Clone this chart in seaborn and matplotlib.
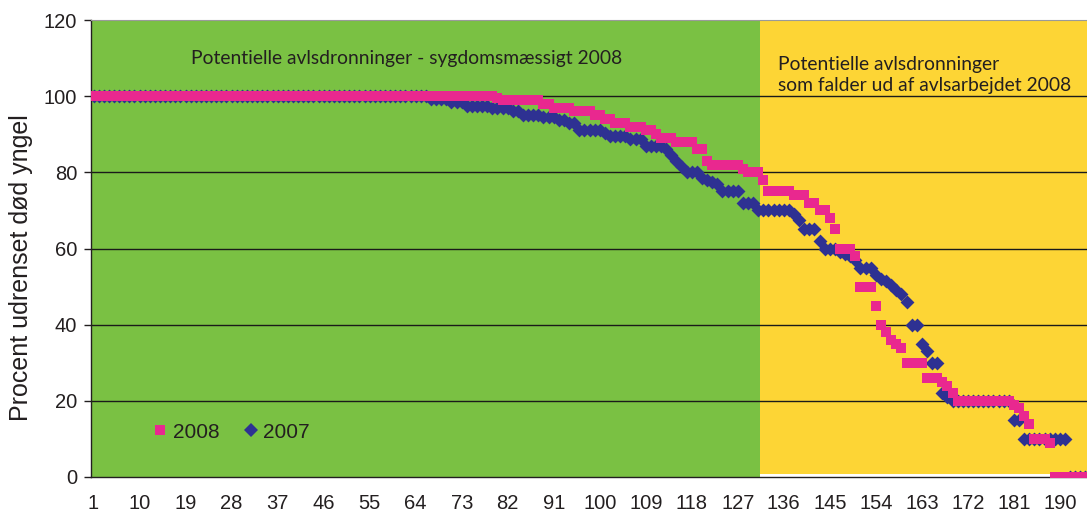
import numpy as np
import pandas as pd
import matplotlib
matplotlib.use("Agg")
import matplotlib.pyplot as plt
import seaborn as sns
from matplotlib.lines import Line2D
from matplotlib.ticker import FixedLocator

# ---------------- data ----------------
series_2008 = [
    100, 100, 100, 100, 100, 100, 100, 100, 100, 100, 100, 100, 100, 100, 100, 100, 100, 100, 100, 100,
    100, 100, 100, 100, 100, 100, 100, 100, 100, 100, 100, 100, 100, 100, 100, 100, 100, 100, 100, 100,
    100, 100, 100, 100, 100, 100, 100, 100, 100, 100, 100, 100, 100, 100, 100, 100, 100, 100, 100, 100,
    100, 100, 100, 100, 100, 100, 100, 100, 100, 100, 100, 100, 100, 100, 100, 100, 100, 100, 100, 99.5,
    99, 99, 99, 99, 99, 99, 99, 99, 98, 98, 97, 97, 97, 97, 96, 96, 96, 96, 95, 95,
    94, 94, 93, 93, 93, 92, 92, 92, 91, 91, 90, 89, 89, 89, 88, 88, 88, 88, 86, 86,
    83, 82, 82, 82, 82, 82, 82, 81, 80, 80, 80, 78, 75, 75, 75, 75, 75, 74, 74, 74,
    72, 72, 70, 70, 68, 65, 60, 60, 60, 58, 50, 50, 50, 45, 40, 38, 36, 35, 34, 30,
    30, 30, 30, 26, 26, 26, 25, 24, 22, 20, 20, 20, 20, 20, 20, 20, 20, 20, 20, 20,
    19, 18, 16, 14, 10, 10, 10, 9, 0, 0, 0, 0, 0, 0, 0, 0,
]
series_2007 = [
    100, 100, 100, 100, 100, 100, 100, 100, 100, 100, 100, 100, 100, 100, 100, 100, 100, 100, 100, 100,
    100, 100, 100, 100, 100, 100, 100, 100, 100, 100, 100, 100, 100, 100, 100, 100, 100, 100, 100, 100,
    100, 100, 100, 100, 100, 100, 100, 100, 100, 100, 100, 100, 100, 100, 100, 100, 100, 100, 100, 100,
    100, 100, 100, 100, 100, 100, 99.3, 99.3, 99.3, 99.3, 98.5, 98.5, 98.5, 97.5, 97.5, 97.5, 97.5, 97.5, 96.8, 96.8,
    96.8, 96.8, 96, 96, 95, 95, 95, 95, 94.5, 94.5, 94.5, 93.7, 93.7, 93, 93, 91.2, 91.2, 91.2, 91.2, 91.2,
    90.2, 89.6, 89.6, 89.6, 89.6, 88.8, 88.8, 88.8, 87, 87, 87, 87, 86, 84.5, 83, 81.5, 80, 80, 80, 78.5,
    78, 77.5, 77, 75, 75, 75, 75, 72, 72, 72, 70, 70, 70, 70, 70, 70, 70, 69, 67.5, 65,
    65, 65, 62, 60, 60, 60, 59, 58.5, 58, 57, 55, 55, 55, 53, 52, 51.5, 50.5, 49, 48, 46,
    40, 40, 35, 33, 30, 30, 22, 21, 20, 20, 20, 20, 20, 20, 20, 20, 20, 20, 20, 20,
    15, 15, 10, 10, 10, 10, 10, 10, 10, 10, 10, 0, 0, 0, 0, 0,
]
categories = list(range(1, len(series_2008) + 1))
tick_labels = [1, 10, 19, 28, 37, 46, 55, 64, 73, 82, 91, 100, 109, 118, 127,
               136, 145, 154, 163, 172, 181, 190]
y_ticks = [0, 20, 40, 60, 80, 100, 120]
legend_labels = ["2008", "2007"]
green_text = "Potentielle avlsdronninger - sygdomsmæssigt 2008"
yellow_text = "Potentielle avlsdronninger\nsom falder ud af avlsarbejdet 2008"
y_label = "Procent udrenset død yngel"

df = pd.DataFrame({"kategori": categories, "2008": series_2008, "2007": series_2007})

# ---------------- styling ----------------
sns.set_style("white")
plt.rcParams["font.family"] = ["Liberation Sans", "DejaVu Sans"]

PINK = "#E9288F"
BLUE = "#2E3192"
GREEN = "#7AC143"
YELLOW = "#FDD535"
TXT = "#231F20"

fig = plt.figure(figsize=(10.87, 5.19), dpi=100)
ax = fig.add_axes([91 / 1087, 42 / 519, 996 / 1087, 457 / 519])

ax.set_xlim(0.5, 195.3)
ax.set_ylim(0, 120)

ax.axvspan(0.5, 131.3, color=GREEN, zorder=0, lw=0)
ax.axvspan(131.3, 196.5, ymin=0.006, color=YELLOW, zorder=0, lw=0)

for yv in y_ticks[1:-1]:
    ax.axhline(yv, color="#1a1a1a", lw=1.0, zorder=1)

sns.scatterplot(data=df, x="kategori", y="2007", marker="D", color=BLUE, s=50,
                linewidth=0, ax=ax, zorder=3, legend=False, clip_on=True)
sns.scatterplot(data=df, x="kategori", y="2008", marker="s", color=PINK, s=54,
                linewidth=0, ax=ax, zorder=4, legend=False, clip_on=True)

ax.set_xlabel("")
ax.set_ylabel(y_label, fontsize=18, color=TXT)
ax.yaxis.set_label_coords(-0.058, 0.458)

ax.xaxis.set_major_locator(FixedLocator(tick_labels))
ax.set_xticklabels([str(t) for t in tick_labels], fontsize=14.5, color=TXT)
ax.xaxis.set_minor_locator(FixedLocator(np.arange(0.5, 196.5, 1.0)))
ax.tick_params(axis="x", which="major", length=0, pad=12)
ax.tick_params(axis="x", which="minor", length=4, width=0.6, color=TXT, direction="out")

ax.set_yticks(y_ticks)
ax.set_yticklabels([str(t) for t in y_ticks], fontsize=14.5, color=TXT)
ax.tick_params(axis="y", which="major", length=5, width=1, color=TXT, direction="out", pad=5, left=True)

for side in ["left", "bottom"]:
    ax.spines[side].set_visible(True)
    ax.spines[side].set_color(TXT)
    ax.spines[side].set_linewidth(1.0)
ax.spines["top"].set_visible(True)
ax.spines["top"].set_color("#9a9a9a")
ax.spines["top"].set_linewidth(0.8)
ax.spines["right"].set_visible(False)

ax.text(62.3, 110, green_text, ha="center", va="center", fontsize=13.9,
        family=["Lato", "DejaVu Sans"], color=TXT, zorder=5)
ax.text(134.9, 105.6, yellow_text, ha="left", va="center", fontsize=13.9,
        family=["Lato", "DejaVu Sans"], color=TXT, linespacing=1.25, zorder=5)

handles = [
    Line2D([], [], marker="s", color=PINK, linestyle="None", markersize=7.3, markeredgewidth=0),
    Line2D([], [], marker="D", color=BLUE, linestyle="None", markersize=7, markeredgewidth=0),
]
leg = fig.legend(handles, legend_labels, loc="center", bbox_to_anchor=(230 / 1087, 1 - 432 / 519),
                 ncol=2, frameon=False, fontsize=15, handletextpad=0.1, columnspacing=1.0,
                 handlelength=1.0)
for t in leg.get_texts():
    t.set_color(TXT)

fig.savefig("out.png", dpi=100)
